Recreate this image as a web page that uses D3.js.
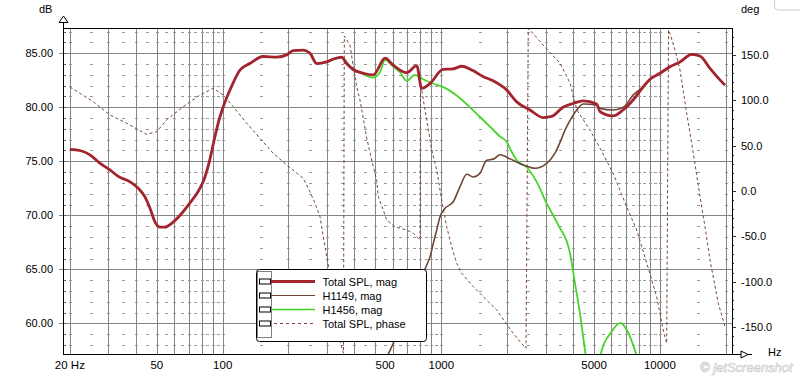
<!DOCTYPE html>
<html><head><meta charset="utf-8">
<script src="https://cdn.jsdelivr.net/npm/d3@7"></script>
<style>body{margin:0;background:#fff;} svg{display:block;font-family:Arial,"Liberation Sans",sans-serif;}</style>
</head><body><svg id="c" width="800" height="376"></svg>
<script>
// ---- data ----
const totalFreq=[20,22.2,24.7,27.5,30.5,33.3,37.7,41.1,44.1,46.5,49.0,51.7,54.5,58.4,63.8,69.6,78.7,82.1,86.6,92.2,96.2,100.6,108,120,133,153,177,196,210,234,251,269,299,320,350,369,396,440,489,553,603,694,772,813,888,1018,1131,1240,1396,1551,1724,1991,2213,2546,2920,3199,3603,4004,4449,5140,5321,6101,6780,7556,8395,9011,10010,11120,12360,13980,15260,16950,18500,19850];
const totalMag=[76.1,76.0,75.6,74.8,74.2,73.6,73.1,72.5,71.7,70.65,69.4,68.9,68.9,69.25,70.0,70.95,72.5,73.3,74.85,77.3,78.8,80.05,81.6,83.45,84.05,84.7,84.65,84.85,85.25,85.3,85.0,84.05,84.2,84.45,84.65,84.05,83.5,83.15,83.0,84.55,83.9,83.2,83.85,81.75,82.2,83.5,83.55,83.8,83.4,82.85,82.45,81.6,80.5,79.75,79.05,79.15,80.0,80.35,80.6,80.3,79.6,79.2,79.75,80.7,81.9,82.6,83.15,83.75,84.2,84.9,84.75,83.6,82.7,82.05];

const h1149Freq=[450,553,583,603,647,711,799,858,888,919,953,986,1040,1134,1218,1307,1401,1503,1613,1729,1856,2077,2373,2683,3035,3313,3746,4163,4463,5140,5321,6120,6799,7556,8395,9011,10010,11120,12360,13980,15260,16950,18500,19850];
const h1149Mag=[52.0,56.6,57.5,58.15,59.6,61.8,64.0,65.4,66.15,67.4,68.65,69.85,70.65,71.25,72.65,73.8,73.55,73.9,75.1,75.2,75.6,75.2,74.65,74.35,74.8,75.75,78.2,79.75,80.3,80.2,79.9,79.75,80.0,81.15,81.9,82.6,83.15,83.75,84.2,84.9,84.75,83.6,82.7,82.05];

const h1456Freq=[20,22.2,24.7,27.5,30.5,33.3,37.7,41.1,44.1,46.5,49.0,51.7,54.5,58.4,63.8,69.6,78.7,82.1,86.6,92.2,96.2,100.6,108,120,133,153,177,196,210,234,251,269,299,320,350,396,425,456,487,524,553,603,647,694,758,825,916,1040,1155,1353,1503,1670,1856,1991,2077,2213,2459,2731,3035,3429,3880,4089,4310,4544,4788,5048,5418,5931,6601,7048,7691,8570,10000];
const h1456Mag=[76.1,76.0,75.6,74.8,74.2,73.6,73.1,72.5,71.7,70.65,69.4,68.9,68.9,69.25,70.0,70.95,72.5,73.3,74.85,77.3,78.8,80.05,81.6,83.45,84.05,84.7,84.65,84.85,85.25,85.3,85.0,84.05,84.2,84.45,84.6,83.4,83.2,82.9,82.75,83.25,84.4,83.75,83.25,82.45,83.0,82.6,82.2,81.8,81.2,80.0,79.1,78.2,77.3,76.8,76.05,75.1,74.45,73.1,71.1,69.1,66.5,63.7,60.9,57.5,54.5,53.0,57.5,59.05,60.05,59.4,57.5,54.0,50.0];

const phaseFreq=[20,25.6,30.5,36.4,44.9,49.9,55.4,66.0,78.7,90.6,100.6,111.8,128.8,148.1,170.4,196.3,233.7,250.8,264.4,278.7,288.5,299.1,304.1,326.4,347.7,356.9,360,369.3,382.2,395.9,410.2,424.8,455.9,480.3,506.3,515,542.8,562.6,614.1,694.5,744.6,784.9,799,804,813.4,903.9,952.8,1004,1058,1116,1176,1240,1401,1556,1792,2077,2291,2440,2500,2546,2920,3491,3880,4172,4788,5378,6101,7048,7832,8703,9669,10360,10740,10950,11120,11720,12360,13260,14220,15260,16080,16950,18500,19850];
const phaseDeg=[114.8,98.6,83.9,74.8,62.6,65.5,78.4,93.1,106,113.4,106,93.1,74.8,58.2,41.6,28.7,14.0,-0.8,-13.6,-28.4,-50.5,-72.5,-81.7,-120,-170,-179,171.2,166.7,161.2,137.3,115.2,100.5,58.5,34.2,12.1,-6.3,-21,-32,-39.4,-43.1,-46.7,-52.2,-54.1,113.7,111.5,45.3,23.2,-9.9,-39.4,-61.5,-79.8,-90.9,-105.7,-116.7,-131.4,-153.5,-166.4,-173.7,179.5,177.8,161.2,141.3,119.3,89.4,67.4,45.3,19.9,-17.3,-43.1,-79.5,-117,-153.5,-168.2,177.8,174.1,155.7,133.6,85.8,41.6,-6.3,-39.4,-76.2,-124,-149.8];

const dbTicks=[60,65,70,75,80,85];
const dbTickLabels=["60.00","65.00","70.00","75.00","80.00","85.00"];
const degTicks=[-150,-100,-50,0,50,100,150];
const degTickLabels=["-150.0","-100.0","-50.0","0.0","50.0","100.0","150.0"];
const freqGrid=[20,30,40,50,60,70,80,90,100,200,300,400,500,600,700,800,900,1000,2000,3000,4000,5000,6000,7000,8000,9000,10000,20000];
const freqMid=[25,35,45,55,65,75,85,95,150,250,350,450,550,650,750,850,950,1500,2500,3500,4500,5500,6500,7500,8500,9500,15000];
const freqLabels=[20,50,100,500,1000,5000,10000];
const freqLabelText=["20 Hz","50","100","500","1000","5000","10000"];
const legendNames=["Total SPL, mag","H1149, mag","H1456, mag","Total SPL, phase"];

// ---- chart ----
const svg=d3.select("#c");
const X0=63,X1=732,Y0=28,Y1=354;
const x=d3.scaleLog().domain([18.6,21370]).range([X0,X1]);
const y=d3.scaleLinear().domain([57.16,87.34]).range([Y1,Y0]);
const yp=d3.scaleLinear().domain([-180,180]).range([Y1,Y0]);
const px=v=>Math.round(v)+0.5;
const GRID="#858585";

const g=svg.append("g");
// vertical grid
g.selectAll("line.vg").data(freqGrid).join("line")
 .attr("x1",d=>px(x(d))).attr("x2",d=>px(x(d))).attr("y1",Y0).attr("y2",Y1)
 .attr("stroke",GRID).attr("stroke-width",1);
// horizontal grid
g.selectAll("line.hg").data(dbTicks).join("line")
 .attr("x1",X0-4).attr("x2",X1).attr("y1",d=>px(y(d))).attr("y2",d=>px(y(d)))
 .attr("stroke",GRID).attr("stroke-width",1);
// small dashes at every dB
const dashes=[];
const cols=freqGrid.concat(freqMid);
for(let db=58;db<=87;db++){ if(dbTicks.includes(db)) continue; cols.forEach(f=>dashes.push([f,db])); }
g.selectAll("line.ds").data(dashes).join("line")
 .attr("x1",d=>Math.round(x(d[0]))-1).attr("x2",d=>Math.round(x(d[0]))+2)
 .attr("y1",d=>px(y(d[1]))).attr("y2",d=>px(y(d[1])))
 .attr("stroke","#999").attr("stroke-width",1);
// left minor ticks
const dbMinor=d3.range(58,88);
g.selectAll("line.lt").data(dbMinor).join("line")
 .attr("x1",X0).attr("x2",X0+3).attr("y1",d=>px(y(d))).attr("y2",d=>px(y(d)))
 .attr("stroke","#666");
// right ticks
const degMinor=d3.range(-170,180,10);
g.selectAll("line.rt").data(degMinor).join("line")
 .attr("x1",X1).attr("x2",d=>X1+(d%50===0?4:2)).attr("y1",d=>px(yp(d))).attr("y2",d=>px(yp(d)))
 .attr("stroke","#333");

// frame
svg.append("rect").attr("x",X0+0.5).attr("y",Y0+0.5).attr("width",X1-X0).attr("height",Y1-Y0)
 .attr("fill","none").attr("stroke","#000").attr("stroke-width",1);

// axis labels
svg.selectAll("text.yl").data(dbTicks).join("text")
 .attr("x",53).attr("y",d=>y(d)+4).attr("text-anchor","end").attr("font-size",11).text((d,i)=>dbTickLabels[i]);
svg.selectAll("text.rl").data(degTicks).join("text")
 .attr("x",741).attr("y",d=>yp(d)+4).attr("text-anchor","start").attr("font-size",11).text((d,i)=>degTickLabels[i]);
svg.selectAll("text.xl").data(freqLabels).join("text")
 .attr("x",d=>x(d)).attr("y",369)
 .attr("text-anchor",d=>d===500?"start":"middle").attr("font-size",11.5).text((d,i)=>freqLabelText[i]);
svg.append("text").attr("x",39).attr("y",13).attr("font-size",11).text("dB");
svg.append("text").attr("x",741).attr("y",13).attr("font-size",11).text("deg");
svg.append("text").attr("x",768).attr("y",356).attr("font-size",11).text("Hz");

// arrows
svg.append("line").attr("x1",X0+0.5).attr("x2",X0+0.5).attr("y1",Y0).attr("y2",22).attr("stroke","#000");
svg.append("path").attr("d",`M${X0-4},22.5 L${X0+0.5},16 L${X0+5},22.5 Z`).attr("fill","#fff").attr("stroke","#000");
svg.append("line").attr("x1",X1).attr("x2",752).attr("y1",Y1+0.5).attr("y2",Y1+0.5).attr("stroke","#000");
svg.append("path").attr("d",`M741,${Y1-3} L748,${Y1+0.5} L741,${Y1+4} Z`).attr("fill","#fff").attr("stroke","#000");
svg.append("rect").attr("x",774.5).attr("y",-6).attr("width",40).attr("height",16).attr("rx",4)
 .attr("fill","none").attr("stroke","#ccc");

// curves
svg.append("clipPath").attr("id","clip").append("rect").attr("x",X0+1).attr("y",Y0+1).attr("width",X1-X0-1).attr("height",Y1-Y0-1);
const cg=svg.append("g").attr("clip-path","url(#clip)");
const magLine=(fs,vs)=>d3.line().x((d,i)=>x(fs[i])).y(d=>y(d)).curve(d3.curveMonotoneX)(vs);
const phLine=d3.line().x((d,i)=>x(phaseFreq[i])).y(d=>yp(d))(phaseDeg);
const COL_TOT="#a3232e",COL_H1149="#6f4538",COL_H1456="#45d428",COL_PH="#7a4638";
cg.append("path").attr("d",phLine).attr("fill","none").attr("stroke",COL_PH).attr("stroke-width",1).attr("stroke-dasharray","3,2.5");
cg.append("path").attr("d",magLine(h1456Freq,h1456Mag)).attr("fill","none").attr("stroke",COL_H1456).attr("stroke-width",1.8);
cg.append("path").attr("d",magLine(h1149Freq,h1149Mag)).attr("fill","none").attr("stroke",COL_H1149).attr("stroke-width",1.6);
cg.append("path").attr("d",magLine(totalFreq,totalMag)).attr("fill","none").attr("stroke",COL_TOT).attr("stroke-width",2.8).attr("stroke-linejoin","round");

// legend
const lg=svg.append("g");
lg.append("rect").attr("x",256.5).attr("y",269.5).attr("width",170).attr("height",72).attr("rx",3)
 .attr("fill","#fff").attr("stroke","#000");
lg.append("rect").attr("x",257.5).attr("y",271.5).attr("width",14).attr("height",66)
 .attr("fill","none").attr("stroke","#000").attr("stroke-dasharray","1,1");
const rowsY=[281.5,295.5,309.5,323.5];
const legStyle=[[COL_TOT,2.8,null],[COL_H1149,1.2,null],[COL_H1456,1.4,null],[COL_PH,1,"3,3"]];
legendNames.forEach((n,i)=>{
  const ry=rowsY[i];
  lg.append("rect").attr("x",259.5).attr("y",ry-2.5).attr("width",11).attr("height",5).attr("fill","#fff").attr("stroke","#000");
  const l=lg.append("line").attr("x1",271).attr("x2",315).attr("y1",ry).attr("y2",ry)
    .attr("stroke",legStyle[i][0]).attr("stroke-width",legStyle[i][1]);
  if(legStyle[i][2]) l.attr("stroke-dasharray",legStyle[i][2]).attr("x1",274);
  lg.append("text").attr("x",322.5).attr("y",ry+4).attr("font-size",11).text(n);
});

// watermark
svg.append("text").attr("x",700).attr("y",372).attr("font-size",13).attr("font-style","italic")
 .attr("fill","#fff").attr("stroke","#cfcfcf").attr("stroke-width",0.7).text("© jetScreenshot");
</script></body></html>
